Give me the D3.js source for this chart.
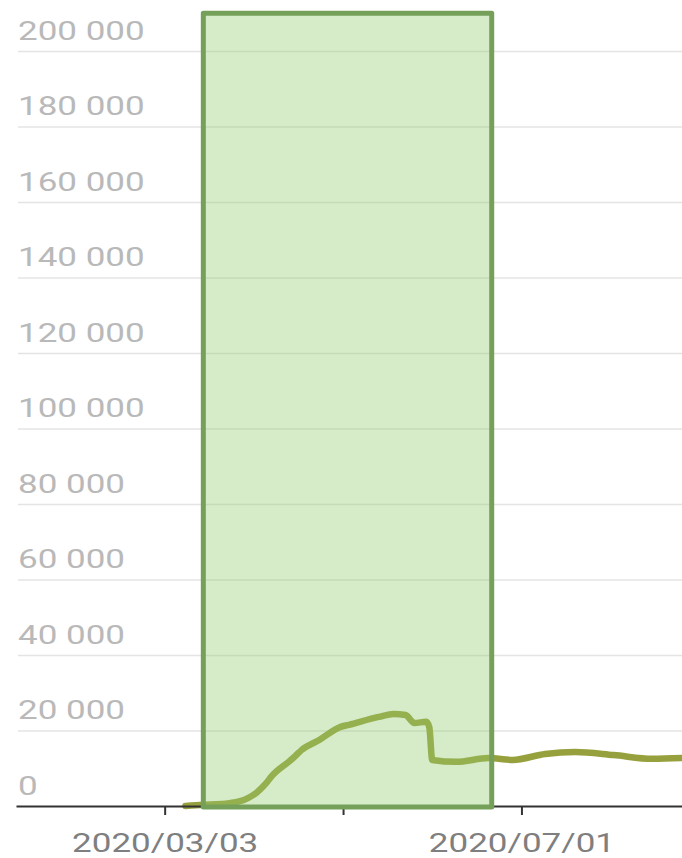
<!DOCTYPE html>
<html>
<head>
<meta charset="utf-8">
<script src="https://cdn.jsdelivr.net/npm/d3@7"></script>
<style>
  body { margin: 0; background: #fff; }
  svg { display: block; }
</style>
</head>
<body>
<svg width="682" height="858"></svg>
<script>
// Data.

var dates = ['2020-03-10','2020-03-16','2020-03-22','2020-03-28','2020-03-31','2020-04-03','2020-04-06',
  '2020-04-08','2020-04-14','2020-04-16','2020-04-18','2020-04-24','2020-05-01','2020-05-04','2020-05-14',
  '2020-05-19','2020-05-23','2020-05-26','2020-05-30','2020-05-31','2020-06-01','2020-06-09','2020-06-20',
  '2020-06-28','2020-07-09','2020-07-19','2020-08-01','2020-08-14','2020-08-24'];
var values = [0, 300, 500, 1200, 2100, 3600, 5900, 7900, 11900, 13300, 14800, 17500, 20900, 21500, 23600,
  24400, 24100, 22000, 22300, 20900, 12200, 11700, 12700, 12200, 13800, 14300, 13500, 12500, 12700];
var yTicks = [0, 20000, 40000, 60000, 80000, 100000, 120000, 140000, 160000, 180000, 200000];
var xTicks = ['2020-03-03', '2020-05-02', '2020-07-01'];
var xTickLabels = ['2020/03/03', '', '2020/07/01'];
var xDomain = ['2020-01-13', '2020-08-24'];
var highlight = ['2020-03-16', '2020-06-21'];

var parse = d3.utcParse('%Y-%m-%d');
var data = dates.map(function(d, i) { return {date: parse(d), value: values[i]}; });

var svg = d3.select('svg');
var font = 'Roboto, "Noto Sans", sans-serif';
var stretch = 'scale(1.4,1)';

var x = d3.scaleUtc()
  .domain(xDomain.map(parse))
  .range([16, 682]);

var y = d3.scaleLinear()
  .domain([0, 210000])
  .range([806, 13.25]);

// Gridlines and y labels.

var yAxis = svg.append('g')
  .attr('transform', 'translate(18,0)')
  .call(d3.axisRight(y)
    .tickValues(yTicks)
    .tickSize(664)
    .tickFormat(function(d) { return d3.format(',')(d).replace(/,/g, ' '); }));
yAxis.attr('font-family', font);
yAxis.select('.domain').remove();
yAxis.selectAll('line').attr('stroke', '#e4e4e4').attr('stroke-width', 1.5);
yAxis.selectAll('.tick').filter(function(d) { return d === 0; }).select('line').remove();
yAxis.selectAll('text')
  .attr('x', 0)
  .attr('y', -12)
  .attr('dy', 0)
  .attr('text-anchor', 'start')
  .attr('transform', stretch)
  .attr('fill', '#b9b9b9')
  .style('font-size', '25px');

// The line.

svg.append('path')
  .datum(data)
  .attr('fill', 'none')
  .attr('stroke', '#96a03c')
  .attr('stroke-width', 6.5)
  .attr('stroke-linejoin', 'round')
  .attr('stroke-linecap', 'round')
  .attr('d', d3.line()
    .curve(d3.curveMonotoneX)
    .x(function(d) { return x(d.date); })
    .y(function(d) { return y(d.value); }));

// x axis.

var xAxis = svg.append('g')
  .attr('transform', 'translate(0,806)')
  .call(d3.axisBottom(x)
    .tickValues(xTicks.map(parse))
    .tickSize(9)
    .tickSizeOuter(0)
    .tickFormat(function(d, i) { return xTickLabels[i]; }));
xAxis.attr('font-family', font);
xAxis.select('.domain').attr('stroke', '#333').attr('stroke-width', 2);
xAxis.selectAll('line').attr('stroke', '#333').attr('stroke-width', 2);
xAxis.selectAll('text')
  .attr('y', 46)
  .attr('dy', 0)
  .attr('transform', stretch)
  .attr('fill', '#7f7f7f')
  .style('font-size', '25px');

// Highlighted period.

var h = highlight.map(parse);
svg.append('rect')
  .attr('x', x(h[0]))
  .attr('y', y(210000))
  .attr('width', x(h[1]) - x(h[0]))
  .attr('height', y(0) - y(210000) + 1)
  .attr('fill', 'rgb(147,203,110)')
  .attr('fill-opacity', 0.38)
  .attr('stroke', '#75a05a')
  .attr('stroke-width', 5)
  .attr('stroke-linejoin', 'round');
</script>
</body>
</html>
